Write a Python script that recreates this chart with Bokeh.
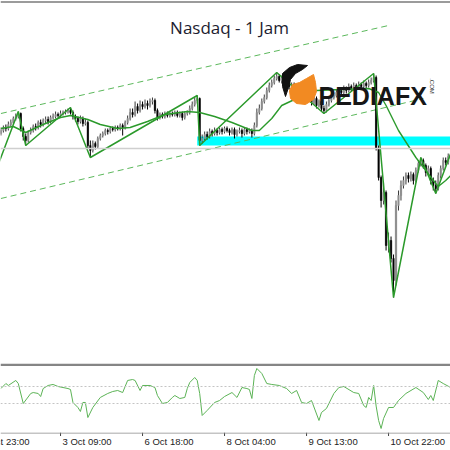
from bokeh.plotting import figure
from bokeh.models import Range1d, Span, ColumnDataSource
from bokeh.layouts import column
from bokeh.embed import file_html
from bokeh.resources import INLINE
from bokeh.core.properties import value
import math

# ---------------- data ----------------
title_text = "Nasdaq - 1 Jam"
tick_bars = [-9, 24, 57, 90, 123, 156]
tick_labels = ["1 Oct 23:00", "3 Oct 09:00", "6 Oct 18:00", "8 Oct 04:00", "9 Oct 13:00", "10 Oct 22:00"]

closes = [24980, 24992, 24988, 25004, 25012, 25028, 25036, 25048, 24988, 24956,
          24940, 24972, 24980, 24996, 24992, 25012, 25004, 25020, 25024, 25016,
          25032, 25036, 25044, 25040, 25048, 25052, 25056, 25060, 25052, 25036,
          25028, 25016, 25028, 25008, 25012, 24920, 24900, 24928, 24916, 24948,
          24960, 24968, 24980, 24976, 24988, 24984, 24992, 24988, 25000, 24992,
          25012, 25028, 25052, 25044, 25076, 25060, 25084, 25076, 25088, 25080,
          25096, 25100, 25060, 25032, 25044, 25036, 25048, 25040, 25048, 25044,
          25052, 25040, 25048, 25032, 25048, 25052, 25068, 25084, 25100, 25108,
          24940, 24948, 24964, 24956, 24976, 24968, 24980, 24972, 24984, 24976,
          24988, 24980, 24972, 24984, 24964, 24976, 24980, 24968, 24984, 24976,
          24980, 24968, 25000, 25052, 25068, 25096, 25112, 25140, 25160, 25172,
          25188, 25196, 25180, 25188, 25168, 25176, 25156, 25164, 25140, 25148,
          25128, 25140, 25116, 25104, 25120, 25092, 25108, 25080, 25096, 25068,
          25060, 25084, 25100, 25112, 25120, 25132, 25140, 25132, 25148, 25140,
          25156, 25148, 25160, 25152, 25164, 25156, 25168, 25160, 25172, 25180,
          25192, 24908, 24792, 24700, 24732, 24520, 24540, 24468, 24380, 24680,
          24720, 24760, 24780, 24800, 24788, 24804, 24780, 24820, 24848, 24860,
          24840, 24812, 24828, 24780, 24760, 24748, 24800, 24828, 24860, 24852,
          24876, 24868]
opens = [24968, 24980, 24992, 24988, 25004, 25012, 25028, 25036, 25048, 24988,
         24956, 24940, 24972, 24980, 24996, 24992, 25012, 25004, 25020, 25024,
         25016, 25032, 25036, 25044, 25040, 25048, 25052, 25056, 25060, 25052,
         25036, 25028, 25016, 25028, 25008, 25012, 24920, 24900, 24928, 24916,
         24948, 24960, 24968, 24980, 24976, 24988, 24984, 24992, 24988, 25000,
         24992, 25012, 25028, 25052, 25044, 25076, 25060, 25084, 25076, 25088,
         25080, 25096, 25100, 25060, 25032, 25044, 25036, 25048, 25040, 25048,
         25044, 25052, 25040, 25048, 25032, 25048, 25052, 25068, 25084, 25100,
         25108, 24940, 24948, 24964, 24956, 24976, 24968, 24980, 24972, 24984,
         24976, 24988, 24980, 24972, 24984, 24964, 24976, 24980, 24968, 24984,
         24976, 24980, 24968, 25000, 25052, 25068, 25096, 25112, 25140, 25160,
         25172, 25188, 25196, 25180, 25188, 25168, 25176, 25156, 25164, 25140,
         25148, 25128, 25140, 25116, 25104, 25120, 25092, 25108, 25080, 25096,
         25068, 25060, 25084, 25100, 25112, 25120, 25132, 25140, 25132, 25148,
         25140, 25156, 25148, 25160, 25152, 25164, 25156, 25168, 25160, 25172,
         25180, 25192, 24908, 24792, 24700, 24732, 24520, 24540, 24468, 24380,
         24680, 24720, 24760, 24780, 24800, 24788, 24804, 24780, 24820, 24848,
         24860, 24840, 24812, 24828, 24780, 24760, 24748, 24800, 24828, 24860,
         24852, 24876]
highs = [24992, 25000, 25004, 25016, 25024, 25036, 25048, 25056, 25052, 24996,
         24968, 24980, 24992, 25004, 25008, 25020, 25024, 25028, 25036, 25036,
         25040, 25048, 25056, 25052, 25060, 25060, 25064, 25068, 25072, 25060,
         25044, 25036, 25040, 25036, 25028, 25020, 24940, 24940, 24936, 24956,
         24968, 24976, 24988, 24988, 24996, 24996, 25000, 25000, 25008, 25008,
         25020, 25040, 25068, 25068, 25096, 25088, 25100, 25096, 25104, 25100,
         25108, 25112, 25108, 25068, 25052, 25052, 25056, 25056, 25056, 25056,
         25060, 25060, 25056, 25056, 25056, 25060, 25080, 25096, 25112, 25120,
         25112, 24964, 24976, 24976, 24988, 24984, 24992, 24988, 24992, 24992,
         24996, 24996, 24988, 24992, 24992, 24984, 24992, 24988, 24992, 24992,
         24988, 24988, 25012, 25068, 25084, 25108, 25124, 25152, 25172, 25184,
         25200, 25212, 25204, 25200, 25196, 25184, 25184, 25172, 25172, 25160,
         25156, 25148, 25148, 25124, 25132, 25128, 25120, 25116, 25104, 25104,
         25080, 25096, 25112, 25124, 25132, 25144, 25152, 25148, 25160, 25156,
         25168, 25164, 25172, 25168, 25176, 25172, 25180, 25176, 25184, 25192,
         25208, 25200, 24920, 24800, 24772, 24740, 24572, 24556, 24484, 24700,
         24740, 24780, 24796, 24812, 24812, 24816, 24812, 24832, 24860, 24872,
         24868, 24848, 24840, 24836, 24792, 24780, 24812, 24840, 24872, 24872,
         24888, 24888]
lows = [24960, 24972, 24976, 24980, 24996, 25004, 25020, 25028, 24976, 24940,
        24920, 24932, 24964, 24972, 24980, 24984, 24992, 24996, 25008, 25004,
        25008, 25024, 25028, 25032, 25032, 25040, 25044, 25048, 25044, 25024,
        25016, 25004, 25008, 24996, 25000, 24908, 24872, 24892, 24904, 24908,
        24940, 24952, 24960, 24964, 24968, 24976, 24976, 24980, 24980, 24960,
        24984, 25004, 25020, 25032, 25036, 25048, 25052, 25064, 25068, 25064,
        25072, 25084, 25048, 25020, 25024, 25028, 25028, 25032, 25032, 25036,
        25036, 25032, 25032, 25020, 25024, 25040, 25044, 25060, 25076, 25088,
        24920, 24928, 24940, 24944, 24948, 24956, 24960, 24960, 24964, 24964,
        24968, 24972, 24960, 24964, 24948, 24956, 24968, 24952, 24960, 24964,
        24968, 24952, 24960, 24992, 25044, 25060, 25088, 25104, 25132, 25152,
        25164, 25180, 25172, 25168, 25156, 25160, 25144, 25148, 25128, 25132,
        25116, 25120, 25104, 25092, 25096, 25080, 25084, 25068, 25072, 25056,
        25048, 25052, 25076, 25092, 25104, 25112, 25124, 25120, 25124, 25128,
        25132, 25136, 25140, 25140, 25144, 25144, 25148, 25148, 25152, 25164,
        25172, 24900, 24780, 24672, 24684, 24500, 24492, 24452, 24312, 24360,
        24660, 24700, 24748, 24764, 24772, 24776, 24764, 24772, 24812, 24836,
        24828, 24796, 24800, 24764, 24740, 24728, 24740, 24788, 24820, 24840,
        24844, 24856]

zigzag_bars = [-2, 7, 10, 28, 36, 79, 80, 111, 130, 150, 158, 169, 175, 181]
zigzag_prices = [24820, 25056, 24920, 25072, 24872, 25120, 24920, 25212, 25048, 25208, 24312, 24872, 24728, 24888]

ma_bars = [0, 5, 10, 17, 24, 28, 35, 40, 47, 52, 59, 66, 75, 80, 86, 93, 101, 104, 109, 113,
           119, 127, 137, 148, 152, 155, 160, 167, 171, 174, 176, 179, 181]
ma_prices = [24988, 24996, 24972, 25004, 25032, 25040, 25024, 25004, 24988, 24992,
             25016, 25044, 25056, 25052, 25036, 25012, 24980, 24980, 25028, 25080,
             25108, 25140, 25144, 25148, 25132, 25080, 24980, 24872, 24820, 24780,
             24756, 24780, 24800]

upper_bars = [0, 156]
upper_prices = [25048, 25400]
lower_bars = [0, 170]
lower_prices = [24708, 25108]

zone_start_bar = 79
zone_low = 24920
zone_high = 24956
level_price = 24908

osc_bars = [0, 2, 3, 6, 7, 9, 12, 13, 15, 16, 17, 19, 21, 23, 27, 28, 29, 31, 32, 33,
            34, 35, 37, 40, 43, 45, 47, 49, 51, 53, 54, 56, 57, 60, 62, 63, 65, 67, 69, 70,
            72, 74, 75, 76, 78, 79, 80, 81, 83, 86, 88, 90, 93, 95, 97, 99, 100, 101, 102, 103,
            105, 107, 109, 112, 115, 117, 119, 121, 123, 125, 128, 129, 131, 134, 136, 138, 142, 144, 146, 147,
            148, 149, 150, 151, 152, 153, 154, 156, 158, 160, 163, 167, 170, 172, 173, 174, 176, 178, 181]
osc_values = [76, 135, 112, 171, 135, -100, 18, 29, 18, -18, 76, 112, 124, 100, 76, 65, -88, -147, -194, -88,
              -88, -265, -147, -29, 18, 41, 53, 29, 171, 182, 171, 53, 112, 112, 88, -6, -100, -88, -29, -6,
              -41, -29, 76, 147, 206, 171, 18, -241, -182, -88, -65, -18, 29, -29, 88, 76, 65, -41, 229, 312,
              253, 135, 124, 112, 76, 18, 53, -88, -100, -65, -300, -206, -159, 18, 88, 100, 29, 18, -124, -147,
              -29, -65, 112, -130, -300, -394, -276, -147, -147, -65, 18, 88, 29, -53, -6, -65, 171, 135, 88]
osc_levels = [100, -100]

# ---------------- layout ----------------
W = 450
H1 = 363
H2 = 69
H3 = 18
X0, X1 = -0.161, 180.93
Y0, Y1 = 24048, 25500

xr = Range1d(X0, X1)

def bx(px):
    # page pixel -> bar coordinate
    return X0 + px / W * (X1 - X0)

def py(px):
    # page pixel -> price coordinate
    return Y1 - px / H1 * (Y1 - Y0)

def mkfig(h, yr):
    f = figure(width=W, height=h, x_range=xr, y_range=yr, output_backend="svg",
               toolbar_location=None, x_axis_type=None, y_axis_type=None,
               min_border=0, min_border_left=0, min_border_right=0,
               min_border_top=0, min_border_bottom=0)
    f.outline_line_color = None
    f.background_fill_color = "white"
    f.border_fill_color = "white"
    f.grid.visible = False
    return f

p = mkfig(H1, Range1d(Y0, Y1))

# top border
p.add_layout(Span(location=py(1.5), dimension="width", line_color="#7a7a7a", line_width=1.6))

# zone and level
p.quad(left=[zone_start_bar], right=[X1 + 5], bottom=[zone_low], top=[zone_high],
       fill_color="#00FFFF", line_color=None)
p.add_layout(Span(location=level_price, dimension="width", line_color="#cfcfcf", line_width=1.5))

# channel
p.line(upper_bars, upper_prices, line_color="#5cb85c", line_width=1, line_dash="6 4")
p.line(lower_bars, lower_prices, line_color="#5cb85c", line_width=1, line_dash="6 4")

# candles
idx = list(range(len(closes)))
tops = [max(o, c) for o, c in zip(opens, closes)]
bots = [min(o, c) for o, c in zip(opens, closes)]
cols = ["#000000" if c < o else "#8e8e8e" for o, c in zip(opens, closes)]
wcols = ["#000000" if c < o else "#3c3c3c" for o, c in zip(opens, closes)]
src = ColumnDataSource(dict(x=idx, o=opens, h=highs, l=lows, c=closes, t=tops, b=bots, col=cols, wcol=wcols))
p.segment(x0="x", y0="h", x1="x", y1="l", source=src, line_color="wcol", line_width=1)
p.vbar(x="x", width=0.55, top="t", bottom="b", source=src, fill_color="col", line_color="col", line_width=0.6)

# MA and zigzag
p.line(ma_bars, ma_prices, line_color="#2b9a2b", line_width=1.4)
p.line(zigzag_bars, zigzag_prices, line_color="#2b9a2b", line_width=1.5)

# title
p.text(x=[bx(229)], y=[py(27)], text=[title_text], text_align="center", text_baseline="middle",
       text_font=value("Open Sans"), text_font_size="17px", text_color="#1c1c30")

# logo
p.patch([bx(v) for v in [282, 289, 297, 307, 302, 295, 290, 288, 285, 282]],
        [py(v) for v in [73, 67, 64, 65, 69, 73, 79, 87, 96, 86]],
        fill_color="#111111", line_color="#111111")
p.patch([bx(v) for v in [299, 306, 313, 315, 316, 313, 305, 296, 290, 289, 292]],
        [py(v) for v in [82, 78, 74, 82, 91, 99, 104, 103, 98, 90, 84]],
        fill_color="#F28A22", line_color="#F28A22")
p.text(x=[bx(318)], y=[py(95)], text=["PEDIAFX"], text_align="left", text_baseline="alphabetic",
       text_font=value("Liberation Sans"), text_font_style="bold", text_font_size="25px", text_color="#161616")
p.text(x=[bx(431)], y=[py(85.5)], text=[".COM"], text_align="center", text_baseline="middle", angle=-math.pi / 2,
       text_font=value("Liberation Sans"), text_font_size="6px", text_color="#333333")

# oscillator
V0, V1 = -441.2, 370.6
p2 = mkfig(H2, Range1d(V0, V1))
for lv in osc_levels:
    p2.add_layout(Span(location=lv, dimension="width", line_color="#c4c4c4", line_width=1, line_dash="2 2"))
p2.line(osc_bars, osc_values, line_color="#5cb356", line_width=1)
p2.add_layout(Span(location=V1 - 1.3 * (V1 - V0) / H2, dimension="width",
                   line_color="#858585", line_width=2.6))

# time axis strip
p3 = mkfig(H3, Range1d(H3, 0))
p3.add_layout(Span(location=0.5, dimension="width", line_color="#8a8a8a", line_width=1))
p3.segment(x0=tick_bars, y0=[0] * len(tick_bars), x1=tick_bars, y1=[3.5] * len(tick_bars),
           line_color="#444444", line_width=1)
p3.text(x=tick_bars, y=[9] * len(tick_bars), text=tick_labels, text_align="left", text_baseline="middle",
        x_offset=2, text_font=value("Liberation Sans Narrow, Liberation Sans"), text_font_size="9.5px",
        text_color="#222222")

layout = column(p, p2, p3)
open("out.html", "w").write(file_html(layout, INLINE))
